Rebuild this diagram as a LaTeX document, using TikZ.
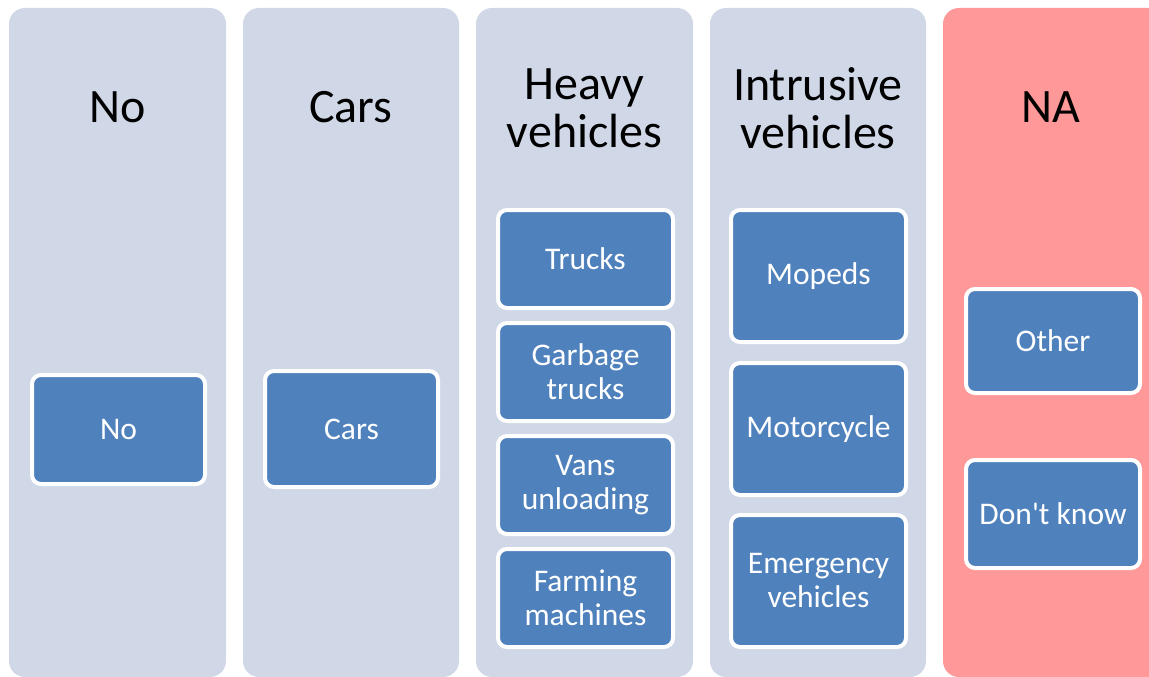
\documentclass[tikz,border=0pt]{standalone}
\usepackage{fontspec}
\setmainfont{Carlito}[Ligatures=TeXOff]
\definecolor{colfill}{HTML}{D0D8E8}
\definecolor{nafill}{HTML}{FF9999}
\definecolor{boxfill}{HTML}{4F81BD}
\tikzset{
  column/.style={fill=colfill, rounded corners=16pt, draw=none},
  nacolumn/.style={fill=nafill, rounded corners=16pt, draw=none},
  header/.style={text=black, align=center, font=\fontsize{48}{48}\selectfont, inner sep=0pt},
  item/.style={fill=boxfill, draw=white, line width=4pt, rounded corners=9pt, text=white,
    align=center, font=\fontsize{31.5}{34}\selectfont, inner sep=0pt, anchor=north west},
}
\begin{document}
\begin{tikzpicture}[x=1pt,y=-1pt]
\useasboundingbox (0,0) rectangle (1149,677);
\fill[white] (0,0) rectangle (1149,677);
% columns
\path[column] (9,8) rectangle (226,677);
\path[column] (243,8) rectangle (459,677);
\path[column] (476,8) rectangle (693,677);
\path[column] (710,8) rectangle (926,677);
\path[nacolumn] (943,8) rectangle (1165,677);
% headers
\node[header] (hno) at (117.5,107) {No};
\node[header] (hcars) at (351,107) {Cars};
\node[header] (hheavy) at (584.5,108) {Heavy\\vehicles};
\node[header] (hintr) at (818,108) {Intrusive\\vehicles};
\node[header] (hna) at (1051,107) {NA};
% items
\node[item, minimum width=173pt, minimum height=109pt] (no) at (30,373) {No};
\node[item, minimum width=173pt, minimum height=116pt] (cars) at (263,369) {Cars};
\node[item, minimum width=175pt, minimum height=98pt] (trucks) at (496,208) {Trucks};
\node[item, minimum width=175pt, minimum height=98pt] (garbage) at (496,321) {Garbage\\trucks};
\node[item, minimum width=175pt, minimum height=98pt] (vans) at (496,434) {Vans\\unloading};
\node[item, minimum width=175pt, minimum height=98pt] (farming) at (496,547) {Farming\\machines};
\node[item, minimum width=175pt, minimum height=132pt] (mopeds) at (729,208) {Mopeds};
\node[item, minimum width=175pt, minimum height=132pt] (moto) at (729,361) {Motorcycle};
\node[item, minimum width=175pt, minimum height=132pt] (emerg) at (729,513) {Emergency\\vehicles};
\node[item, minimum width=174pt, minimum height=104pt] (other) at (964,287) {Other};
\node[item, minimum width=174pt, minimum height=108pt] (dk) at (964,458) {Don't know};
\end{tikzpicture}
\end{document}
